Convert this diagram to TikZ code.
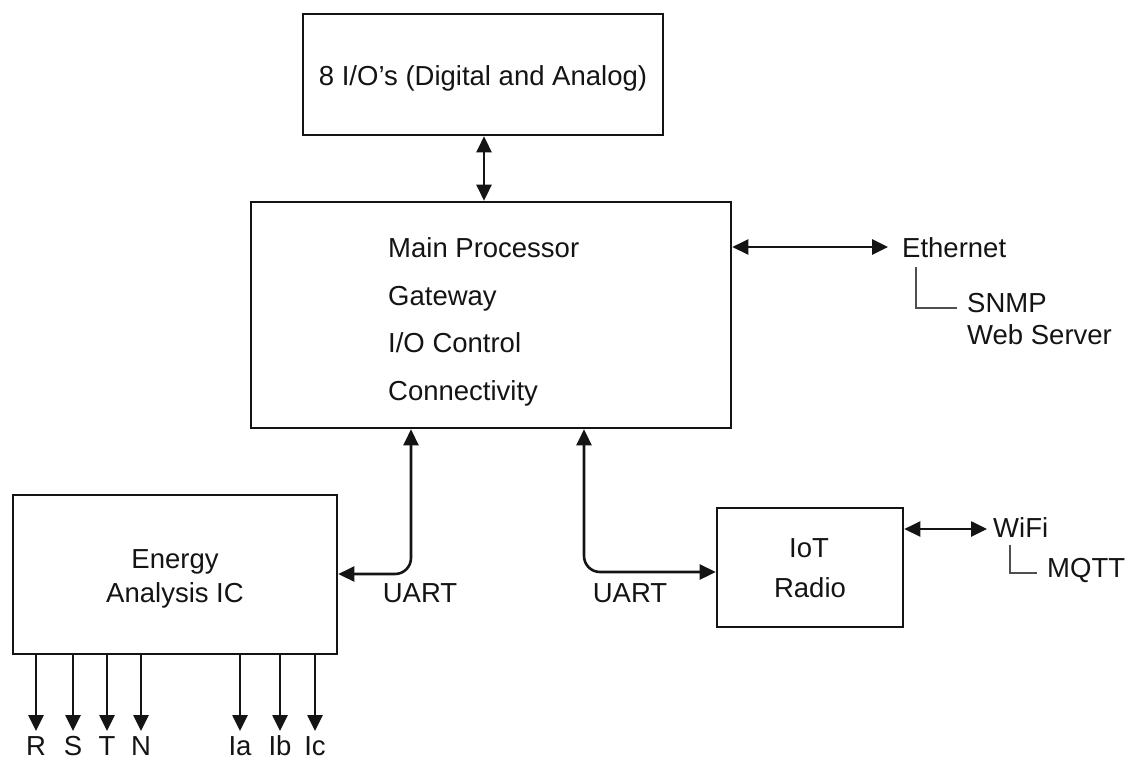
\documentclass[tikz,border=0pt]{standalone}
\usepackage{fontspec}
\setmainfont{Liberation Sans}
\usetikzlibrary{arrows.meta}
\definecolor{ink}{HTML}{141414}
\begin{document}
\begin{tikzpicture}[x=1pt,y=-1pt,
  every node/.style={font=\fontsize{27.5}{32}\selectfont, text=ink},
  blk/.style={draw=ink, line width=2.6pt, minimum width=#1, inner sep=0pt},
  txt/.style={inner sep=0pt, anchor=base},
  ltxt/.style={inner sep=0pt, anchor=base west},
  conn/.style={draw=ink, line width=2.6pt, -{Triangle[length=16pt,width=15pt]}},
  bconn/.style={draw=ink, line width=2.6pt, {Triangle[length=16pt,width=15pt]}-{Triangle[length=16pt,width=15pt]}},
  brk/.style={draw=ink!75, line width=1.9pt}]
\useasboundingbox (0,0) rectangle (1129,760);
% boxes
\node[blk=360pt, minimum height=121pt] (io) at (483,74.5) {};
\node[txt] (iot) at (483,85) {8 I/O’s (Digital and Analog)};
\node[blk=480pt, minimum height=226pt] (main) at (491,315) {};
\node[ltxt] (m1) at (388,257) {Main Processor};
\node[ltxt] (m2) at (388,305) {Gateway};
\node[ltxt] (m3) at (388,352) {I/O Control};
\node[ltxt] (m4) at (388,400) {Connectivity};
\node[blk=324pt, minimum height=159pt] (ea) at (175,574.5) {};
\node[txt] (ea1) at (175,568) {Energy};
\node[txt] (ea2) at (175,602) {Analysis IC};
\node[blk=186pt, minimum height=119pt] (radio) at (810,567.5) {};
\node[txt] (r1) at (809,557) {IoT};
\node[txt] (r2) at (810,597) {Radio};
% io - main
\draw[bconn] (io.south -| 484,0) -- (main.north -| 484,0);
% ethernet
\node[ltxt] (eth) at (902,257) {Ethernet};
\draw[bconn] (main.east |- 0,247) -- (888,247);
\node[ltxt] (snmp) at (967,312) {SNMP};
\node[ltxt] (web) at (967,344) {Web Server};
\coordinate (eb) at (916,267);
\draw[brk] (eb) |- (957,308);
% wifi
\node[ltxt] (wifi) at (993,537) {WiFi};
\draw[bconn] (radio.east |- 0,529) -- (987,529);
\node[ltxt] (mqtt) at (1047,577) {MQTT};
\coordinate (wb) at (1010,545);
\draw[brk] (wb) |- (1037,573);
% UART connections
\coordinate (ua) at (411,574);
\coordinate (ub) at (584,572);
\draw[bconn, rounded corners=16pt] (main.south -| ua) |- (ea.east |- ua);
\draw[bconn, rounded corners=16pt] (main.south -| ub) |- (radio.west |- ub);
\node[txt] (u1) at (420,602) {UART};
\node[txt] (u2) at (630,602) {UART};
% bottom signals
\foreach \n/\x/\t in {R/36/R, S/73/S, T/107/T, N/141/N, Ia/240/Ia, Ib/280/Ib, Ic/315/Ic}{
  \node[txt] (\n) at (\x,755) {\t};
  \draw[conn] (ea.south -| \n) -- (\x,731);
}
\end{tikzpicture}
\end{document}
